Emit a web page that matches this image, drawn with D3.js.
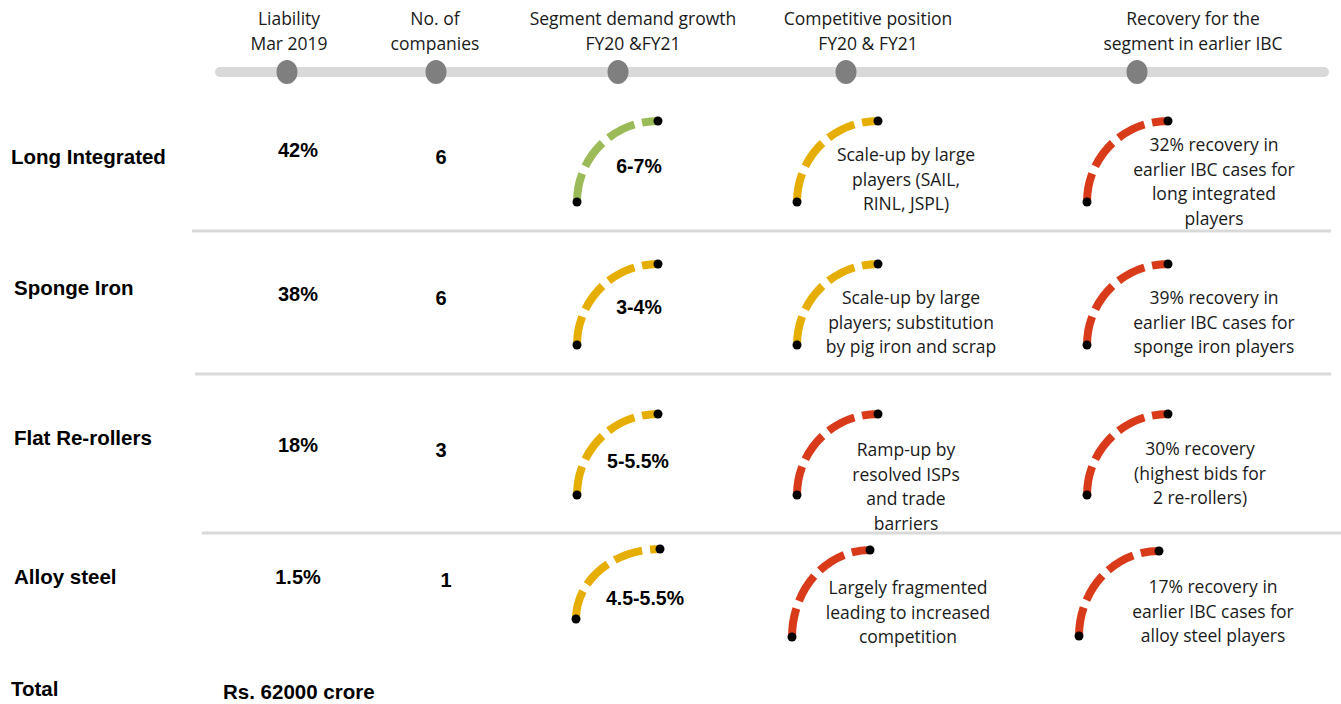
<!DOCTYPE html>
<html>
<head>
<meta charset="utf-8">
<script src="https://cdn.jsdelivr.net/npm/d3@7/dist/d3.min.js"></script>
<style>
  html, body { margin: 0; padding: 0; background: #fff; }
  svg { display: block; }
</style>
</head>
<body>
<svg id="chart" width="1341" height="704"></svg>
<script>
// ---------- DATA ----------
const headers = [
  ["Liability", "Mar 2019"],
  ["No. of", "companies"],
  ["Segment demand growth", "FY20 &FY21"],
  ["Competitive position", "FY20 & FY21"],
  ["Recovery for the", "segment in earlier IBC"]
];
const categories = ["Long Integrated", "Sponge Iron", "Flat Re-rollers", "Alloy steel"];
const liability = ["42%", "38%", "18%", "1.5%"];
const companies = [6, 6, 3, 1];
const demandGrowth = ["6-7%", "3-4%", "5-5.5%", "4.5-5.5%"];
const demandRating = ["good", "moderate", "moderate", "moderate"];
const competitiveText = [
  ["Scale-up by large", "players (SAIL,", "RINL, JSPL)"],
  ["Scale-up by large", "players; substitution", "by pig iron and scrap"],
  ["Ramp-up by", "resolved ISPs", "and trade", "barriers"],
  ["Largely fragmented", "leading to increased", "competition"]
];
const competitiveRating = ["moderate", "moderate", "weak", "weak"];
const recoveryText = [
  ["32% recovery in", "earlier IBC cases for", "long integrated", "players"],
  ["39% recovery in", "earlier IBC cases for", "sponge iron players"],
  ["30% recovery", "(highest bids for", "2 re-rollers)"],
  ["17% recovery in", "earlier IBC cases for", "alloy steel players"]
];
const recoveryRating = ["weak", "weak", "weak", "weak"];
const totalLabel = "Total";
const totalValue = "Rs. 62000 crore";

// ---------- LAYOUT ----------
const svg = d3.select("#chart");
const regFont = "'Open Sans', 'Noto Sans', sans-serif";
const boldFont = "'Liberation Sans', Arial, sans-serif";
const regSize = 17.5;
const regFill = "#1a1a1a";

const color = d3.scaleOrdinal()
  .domain(["good", "moderate", "weak"])
  .range(["#9bbb59", "#e6ae00", "#d83a1a"]);

const headerX = d3.scaleOrdinal().domain(d3.range(5)).range([289, 435, 633, 868, 1193]);
const dotX = d3.scaleOrdinal().domain(d3.range(5)).range([287, 436, 618, 846, 1137]);
const rowY = d3.scaleOrdinal().domain(categories).range([202, 345, 495, 636]);

// ---- header ----
const hdr = svg.append("g");
hdr.append("line")
  .attr("x1", 220).attr("x2", 1324).attr("y1", 72).attr("y2", 72)
  .attr("stroke", "#d9d9d9").attr("stroke-width", 10).attr("stroke-linecap", "round");
hdr.selectAll("ellipse").data(headers).join("ellipse")
  .attr("cx", (d, i) => dotX(i)).attr("cy", 72)
  .attr("rx", 10.5).attr("ry", 12).attr("fill", "#7f7f7f");
headers.forEach((lines, i) => {
  const t = hdr.append("text")
    .attr("text-anchor", "middle").attr("font-family", regFont)
    .attr("font-size", regSize).attr("fill", regFill);
  lines.forEach((l, j) => t.append("tspan").attr("x", headerX(i)).attr("y", 19 + j * 25).attr("dy", "0.35em").text(l));
});

// ---- separators ----
const sepData = [[231, 192, 1331], [374, 195, 1331], [533, 202, 1341]];
svg.selectAll("line.sep").data(sepData).join("line").attr("class", "sep")
  .attr("x1", d => d[1]).attr("x2", d => d[2]).attr("y1", d => d[0]).attr("y2", d => d[0])
  .attr("stroke", "#d9d9d9").attr("stroke-width", 3);

// ---- row labels ----
const labelX = [11, 14, 14, 14];
const labelY = [157, 288, 438, 577];
svg.selectAll("text.cat").data(categories).join("text").attr("class", "cat")
  .attr("x", (d, i) => labelX[i]).attr("y", (d, i) => labelY[i]).attr("dy", "0.35em")
  .attr("font-family", boldFont).attr("font-weight", "bold").attr("font-size", 20.5)
  .attr("fill", "#000").text(d => d);

// ---- liability ----
const liabY = [150, 294, 445, 577];
svg.selectAll("text.liab").data(liability).join("text").attr("class", "liab")
  .attr("x", 298).attr("y", (d, i) => liabY[i]).attr("dy", "0.35em")
  .attr("text-anchor", "middle")
  .attr("font-family", boldFont).attr("font-weight", "bold").attr("font-size", 20)
  .attr("fill", "#000").text(d => d);

// ---- companies ----
const compX = [441, 441, 441, 446];
const compY = [157, 298, 450, 580];
svg.selectAll("text.cnt").data(companies).join("text").attr("class", "cnt")
  .attr("x", (d, i) => compX[i]).attr("y", (d, i) => compY[i]).attr("dy", "0.35em")
  .attr("text-anchor", "middle")
  .attr("font-family", boldFont).attr("font-weight", "bold").attr("font-size", 20)
  .attr("fill", "#000").text(d => d);

// ---- gauges (quarter arcs from left end to top end) ----
const gaugeStartX = [577, 797, 1087];
// [dx, dy, rx, ry] for the last row per column
const row4Geom = [[-1, -17, 84, 70], [-5, 1, 78, 87], [-8, 0, 80, 85]];
function gauge(col, rowIdx, rating) {
  let x0 = gaugeStartX[col];
  let y0 = rowY(categories[rowIdx]);
  let rx = 81, ry = 81;
  if (rowIdx === 3) {
    const g4 = row4Geom[col];
    x0 += g4[0]; y0 += g4[1]; rx = g4[2]; ry = g4[3];
  }
  const x1 = x0 + rx, y1 = y0 - ry;
  const d = `M${x0},${y0} A${rx},${ry} 0 0 1 ${x1},${y1}`;
  const g = svg.append("g");
  g.append("path").attr("d", d)
    .attr("fill", "none").attr("stroke", color(rating))
    .attr("stroke-width", 8).attr("stroke-dasharray", "29 8");
  g.append("circle").attr("cx", x0).attr("cy", y0).attr("r", 4.5).attr("fill", "#000");
  g.append("circle").attr("cx", x1).attr("cy", y1).attr("r", 4.5).attr("fill", "#000");
}
categories.forEach((c, i) => {
  gauge(0, i, demandRating[i]);
  gauge(1, i, competitiveRating[i]);
  gauge(2, i, recoveryRating[i]);
});

// ---- demand growth labels ----
const dgX = [639, 639, 638, 645];
const dgY = [166, 307, 461, 598];
svg.selectAll("text.dg").data(demandGrowth).join("text").attr("class", "dg")
  .attr("x", (d, i) => dgX[i]).attr("y", (d, i) => dgY[i]).attr("dy", "0.35em")
  .attr("text-anchor", "middle")
  .attr("font-family", boldFont).attr("font-weight", "bold").attr("font-size", 19.5)
  .attr("fill", "#000").text(d => d);

// ---- multi-line texts ----
function block(lines, x, y) {
  const t = svg.append("text").attr("text-anchor", "middle")
    .attr("font-family", regFont).attr("font-size", regSize).attr("fill", regFill);
  lines.forEach((l, j) => t.append("tspan").attr("x", x).attr("y", y + j * 24.5).attr("dy", "0.35em").text(l));
}
const ctX = [906, 911, 906, 908];
const ctY = [155, 298, 450, 588];
competitiveText.forEach((lines, i) => block(lines, ctX[i], ctY[i]));
const rtX = [1214, 1214, 1200, 1213];
const rtY = [145, 298, 449, 587];
recoveryText.forEach((lines, i) => block(lines, rtX[i], rtY[i]));

// ---- total ----
svg.append("text").attr("x", 11).attr("y", 689).attr("dy", "0.35em")
  .attr("font-family", boldFont).attr("font-weight", "bold").attr("font-size", 20.5)
  .attr("fill", "#000").text(totalLabel);
svg.append("text").attr("x", 223).attr("y", 692).attr("dy", "0.35em")
  .attr("font-family", boldFont).attr("font-weight", "bold").attr("font-size", 20.5)
  .attr("fill", "#000").text(totalValue);
</script>
</body>
</html>
